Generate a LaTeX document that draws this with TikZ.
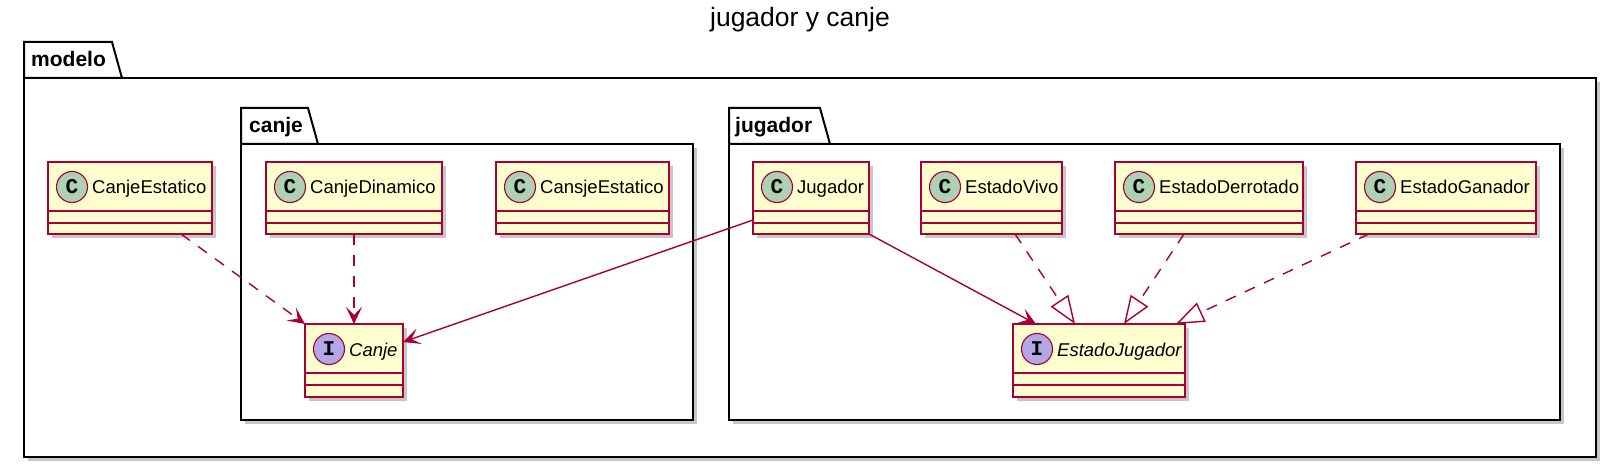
\documentclass[tikz,border=0pt]{standalone}
\usepackage{fontspec}
\setmainfont{Liberation Sans}
\newfontfamily\letterfont{Liberation Mono}
\usetikzlibrary{arrows.meta,shadows}
\definecolor{clsfill}{HTML}{FEFECE}
\definecolor{clsborder}{HTML}{A80036}
\definecolor{circC}{HTML}{ADD1B2}
\definecolor{circI}{HTML}{B4A7E5}
\newcommand{\clsnamefont}{\fontsize{18.5}{20}\selectfont}
\tikzset{
  shad/.style={drop shadow={shadow xshift=4pt, shadow yshift=-4pt, fill=black, opacity=0.22}},
  clsbox/.style={draw=clsborder, fill=clsfill, line width=1.8pt, inner sep=0pt, outer sep=0pt, shad},
  clsline/.style={draw=clsborder, line width=1.8pt},
  circ/.style={circle, draw=clsborder, line width=1.1pt, minimum size=31pt, inner sep=0pt,
    font=\letterfont\bfseries\fontsize{21}{21}\selectfont},
  pkg/.style={draw=black, fill=white, line width=2pt, line join=miter},
  pkglabel/.style={inner sep=0pt, font=\bfseries\fontsize{21}{22}\selectfont},
  assoc/.style={draw=clsborder, line width=1.4pt, -{Stealth[length=17pt,width=16pt,inset=8pt]}},
  dep/.style={assoc, dash pattern=on 11pt off 10pt},
  real/.style={draw=clsborder, line width=1.4pt, dash pattern=on 11pt off 10pt,
    -{Triangle[open, length=28pt, width=21pt, fill=white]}},
}
% #1 id, #2 left, #3 width, #4 top, #5 height, #6 letter, #7 circle colour, #8 label
\newcommand{\umlbox}[8]{%
  \node[clsbox, minimum width=#3pt, minimum height=#5pt, anchor=north west] (#1) at (#2,#4) {};
  \draw[clsline] ([yshift=-49pt]#1.north west) -- ([yshift=-49pt]#1.north east);
  \draw[clsline] ([yshift=-61pt]#1.north west) -- ([yshift=-61pt]#1.north east);
  \node[circ, fill=#7] (#1-c) at ([xshift=24pt,yshift=-25pt]#1.north west) {#6};
  \node[anchor=base west, inner sep=0pt] (#1-n) at ([xshift=44pt,yshift=-32pt]#1.north west) {#8};
}
\begin{document}
\begin{tikzpicture}[x=1pt,y=-1pt]
\useasboundingbox (0,0) rectangle (1620,465);

\node[anchor=base, inner sep=0pt, font=\fontsize{26.5}{30}\selectfont] (title) at (800,27) {jugador y canje};

% package modelo
\path[pkg, shad] (24,78) rectangle (1596,457);
\path[pkg] (24,78) -- (24,42) -- (112,42) -- (122,78) -- cycle;
\node[pkglabel, anchor=base west] (modelo) at (31,67) {modelo};

% package canje
\path[pkg, shad] (241,144) rectangle (693,420);
\path[pkg] (241,144) -- (241,108) -- (308,108) -- (318,144) -- cycle;
\node[pkglabel, anchor=base west] (canjepkg) at (249,133) {canje};

% package jugador
\path[pkg, shad] (729,144) rectangle (1560,420);
\path[pkg] (729,144) -- (729,108) -- (820,108) -- (830,144) -- cycle;
\node[pkglabel, anchor=base west] (jugadorpkg) at (735,133) {jugador};

% classes
\umlbox{CanjeEstatico}{48}{164}{162}{72}{C}{circC}{\clsnamefont CanjeEstatico}
\umlbox{CanjeDinamico}{266}{176}{162}{72}{C}{circC}{\clsnamefont CanjeDinamico}
\umlbox{CansjeEstatico}{496}{173}{162}{72}{C}{circC}{\clsnamefont CansjeEstatico}
\umlbox{Jugador}{753}{116}{162}{72}{C}{circC}{\clsnamefont Jugador}
\umlbox{EstadoVivo}{921}{141}{162}{72}{C}{circC}{\clsnamefont EstadoVivo}
\umlbox{EstadoDerrotado}{1115}{188}{162}{72}{C}{circC}{\clsnamefont EstadoDerrotado}
\umlbox{EstadoGanador}{1356}{180}{162}{72}{C}{circC}{\clsnamefont EstadoGanador}
\umlbox{Canje}{305}{98}{324}{73}{I}{circI}{\clsnamefont\itshape Canje}
\umlbox{EstadoJugador}{1013}{172}{324}{73}{I}{circI}{\clsnamefont\itshape EstadoJugador}

% connectors
\draw[dep] ([xshift=51pt]CanjeEstatico.south) -- (Canje.north west);
\draw[dep] (CanjeDinamico.south) -- (Canje.north);
\draw[assoc] ([yshift=-22pt]Jugador.west) -- ([yshift=18.5pt]Canje.east);
\draw[assoc] (Jugador.south east) -- ([xshift=23pt]EstadoJugador.north west);
\draw[real] ([xshift=23.5pt]EstadoVivo.south) -- ([xshift=-24pt]EstadoJugador.north);
\draw[real] ([xshift=-25pt]EstadoDerrotado.south) -- ([xshift=25pt]EstadoJugador.north);
\draw[real] ([xshift=-77pt]EstadoGanador.south) -- ([xshift=-9pt]EstadoJugador.north east);
\end{tikzpicture}
\end{document}
